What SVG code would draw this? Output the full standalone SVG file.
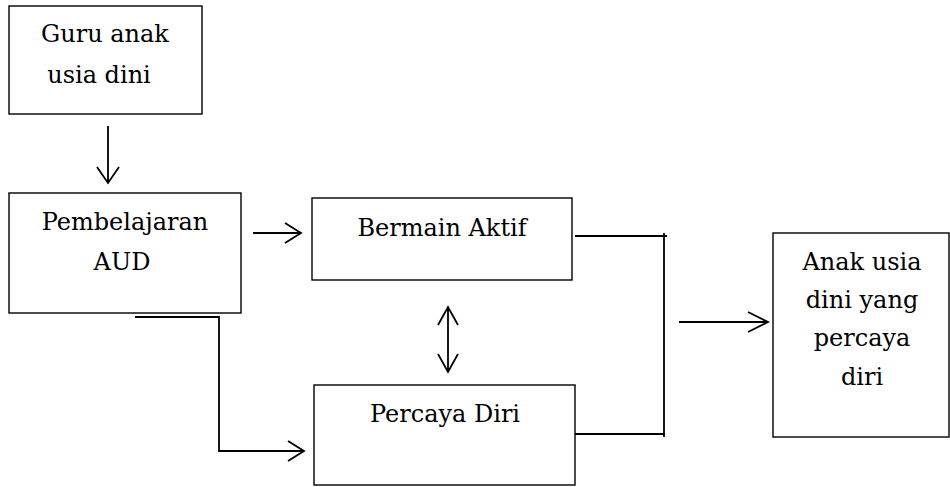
<svg xmlns="http://www.w3.org/2000/svg" width="950" height="487" viewBox="0 0 950 487">
<style>
.box{fill:#fff;stroke:#000;stroke-width:1.4}
.t{font-family:'DejaVu Serif','Liberation Serif',serif;font-size:24px;fill:#000;text-anchor:middle}
.c{fill:none;stroke:#000;stroke-width:1.8}
</style>
<rect width="950" height="487" fill="#fff"/>
<g id="guru"><rect class="box" x="9" y="6" width="193" height="108"/><text class="t" x="105" y="42">Guru anak</text><text class="t" x="99" y="83">usia dini</text></g>
<g id="pembelajaran"><rect class="box" x="9" y="193" width="232" height="120"/><text class="t" x="125" y="230">Pembelajaran</text><text class="t" x="122" y="270">AUD</text></g>
<g id="bermain"><rect class="box" x="312" y="198" width="260" height="82"/><text class="t" x="442" y="236">Bermain Aktif</text></g>
<g id="percaya"><rect class="box" x="314" y="385" width="261" height="100"/><text class="t" x="445" y="422">Percaya Diri</text></g>
<g id="anak"><rect class="box" x="773" y="233" width="176" height="204"/><text class="t" x="862" y="270">Anak usia</text><text class="t" x="862" y="308">dini yang</text><text class="t" x="862" y="346">percaya</text><text class="t" x="862" y="385">diri</text></g>
<g id="connectors">
<path class="c" d="M108 126V183M97 167L108 183L119 167"/>
<path class="c" d="M253 233H301M285 223L301 233L285 243"/>
<path class="c" d="M448 307V372M438 325L448 307L458 325M438 354L448 372L458 354"/>
<path class="c" d="M135 317H219V451H304M288 441L304 451L288 461"/>
<path class="c" d="M575 236H667M664 233V437M575 434H665"/>
<path class="c" d="M679 322H768M748 312L768 322L748 332"/>
</g>
</svg>
